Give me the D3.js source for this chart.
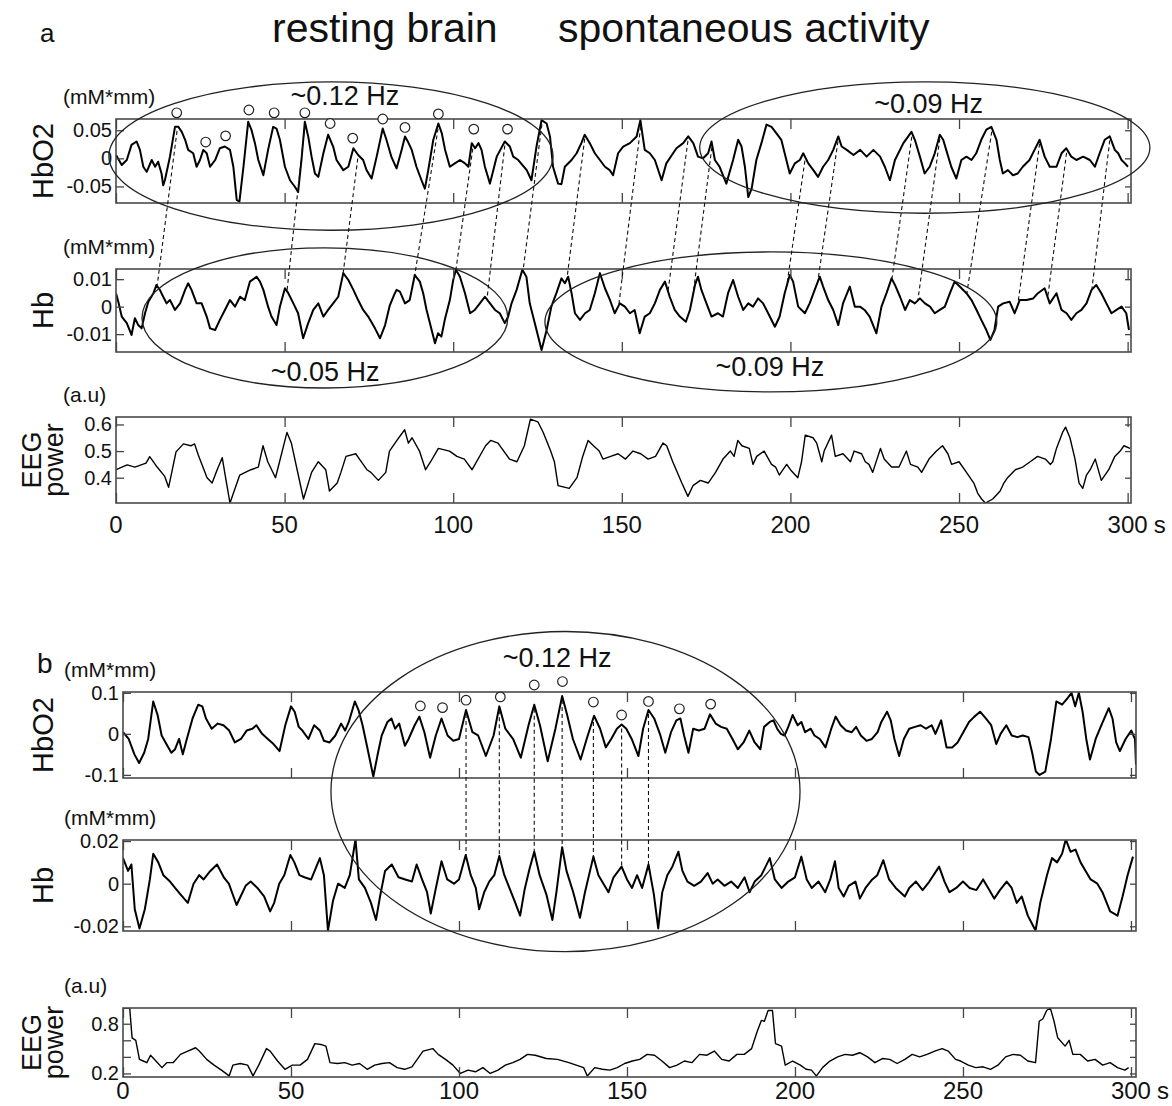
<!DOCTYPE html>
<html>
<head>
<meta charset="utf-8">
<script src="https://cdn.jsdelivr.net/npm/d3@7"></script>
<style>
  body { margin: 0; background: #fff; }
  text { font-family: "Liberation Sans", Arial, sans-serif; fill: #111; }
</style>
</head>
<body>
<div id="chart"></div>
<script>
// ---- data: [time (s), value] ----
const hbo2A = [[0,0.006],[1.7,-0.012],[3.2,-0.003],[4.6,0.024],[6.1,0.030],[7.1,0.015],[8.1,-0.015],[9.1,-0.024],[10.6,-0.003],[11.6,-0.015],[12.5,-0.006],[13.5,-0.027],[14.0,-0.048],[14.5,-0.039],[16.0,0.003],[17.5,0.056],[18.5,0.056],[19.5,0.047],[20.5,0.033],[21.4,0.015],[22.9,0.009],[23.9,-0.015],[24.9,-0.003],[25.9,0.015],[26.9,0.009],[27.9,-0.015],[29.4,-0.003],[30.8,0.018],[32.3,0.021],[33.8,0.015],[34.8,-0.015],[35.8,-0.074],[36.6,-0.077],[37.8,-0.015],[39.2,0.065],[40.2,0.050],[41.2,0.027],[42.2,-0.003],[43.7,-0.030],[45.1,0.015],[46.6,0.056],[47.6,0.053],[48.6,0.033],[50.1,-0.015],[51.6,-0.039],[53.1,-0.051],[54.0,-0.060],[55.0,-0.003],[56.0,0.065],[57.0,0.039],[58.0,0.003],[59.0,-0.027],[60.0,-0.033],[61.5,0.009],[62.9,0.042],[64.4,0.021],[65.4,-0.003],[67.4,-0.021],[68.9,-0.015],[70.4,0.018],[71.8,0.006],[73.3,-0.003],[74.3,-0.021],[75.8,-0.036],[77.3,0.003],[79.1,0.053],[80.2,0.033],[81.7,0.002],[83.2,-0.018],[84.7,0.015],[85.7,0.039],[86.7,0.028],[87.7,0.015],[89.1,-0.015],[90.6,-0.039],[91.6,-0.054],[92.6,-0.021],[94.1,0.033],[95.6,0.062],[96.6,0.045],[97.6,0.015],[99.0,-0.015],[100.5,-0.009],[102.0,-0.003],[103.5,-0.009],[104.5,-0.015],[105.5,0.027],[106.5,0.018],[107.5,0.027],[108.4,0.015],[109.4,-0.015],[110.9,-0.045],[112.9,0.003],[115.3,0.030],[116.8,0.021],[117.8,0.003],[119.3,-0.003],[121.8,-0.021],[123.2,-0.039],[124.7,0.021],[126.2,0.068],[127.7,0.062],[128.7,0.039],[129.6,-0.015],[131.1,-0.045],[132.1,-0.046],[133.1,-0.015],[135.1,-0.003],[136.6,0.009],[138.0,0.027],[139.0,0.042],[140.5,0.027],[142.0,0.009],[143.5,-0.003],[145.0,-0.015],[146.4,-0.021],[147.4,-0.030],[148.9,0.009],[150.4,0.021],[152.4,0.027],[154.4,0.039],[155.5,0.068],[156.8,0.015],[158.3,0.009],[159.8,-0.003],[161.8,-0.039],[163.2,-0.009],[165.2,0.009],[166.2,0.018],[168.2,0.027],[169.7,0.039],[171.2,0.027],[172.6,0.003],[174.1,0.000],[175.6,0.009],[176.6,0.030],[177.6,-0.003],[179.0,-0.015],[181.0,-0.045],[183.0,-0.003],[184.5,0.033],[185.5,0.021],[186.5,-0.015],[187.5,-0.069],[188.5,-0.054],[189.9,-0.003],[191.4,0.027],[192.9,0.060],[194.4,0.056],[195.8,0.045],[197.3,0.033],[198.3,0.009],[199.8,-0.027],[201.3,-0.009],[202.8,-0.003],[203.8,0.009],[205.3,-0.009],[206.8,-0.021],[208.2,-0.033],[209.7,-0.015],[211.2,-0.003],[212.7,0.015],[214.2,0.039],[215.2,0.021],[216.7,0.015],[218.7,0.006],[220.7,0.015],[222.6,0.003],[224.6,0.015],[226.6,0.003],[228.0,-0.015],[229.5,-0.039],[231.0,-0.003],[233.5,0.027],[235.9,0.047],[236.9,0.033],[238.4,0.003],[239.8,-0.027],[241.3,-0.015],[242.8,0.009],[244.3,0.042],[245.3,0.033],[246.2,0.015],[247.7,-0.015],[249.2,-0.036],[250.7,-0.003],[252.2,0.003],[253.7,-0.003],[255.1,0.009],[256.6,0.033],[258.1,0.051],[259.6,0.056],[261.1,0.033],[262.1,-0.003],[263.0,-0.027],[264.5,-0.021],[266.0,-0.030],[267.4,-0.027],[268.9,-0.015],[270.9,-0.003],[272.4,0.015],[273.9,0.033],[275.4,0.003],[276.9,-0.015],[278.9,-0.015],[280.4,0.009],[281.8,0.018],[283.3,0.003],[284.8,-0.003],[286.8,0.003],[288.8,-0.003],[290.3,-0.015],[291.7,0.009],[293.2,0.033],[294.7,0.039],[296.2,0.015],[297.2,0.009],[298.2,-0.003],[299.2,-0.009],[300.1,-0.015]];

const hbA = [[0,0.0049],[0.8,0.0012],[1.7,-0.0036],[3.2,-0.006],[4.6,-0.0103],[5.6,-0.0042],[6.6,-0.0067],[7.6,-0.0079],[8.6,-0.0024],[9.6,0.0018],[11.1,0.0049],[12.0,0.0079],[13.0,0.0061],[14.0,0.0036],[15.0,0.0012],[16.0,0.0024],[17.5,-0.0012],[19.0,0.0012],[20.5,0.0061],[21.4,0.0085],[22.4,0.0061],[23.9,0.0012],[25.4,0.0012],[26.9,-0.0036],[27.9,-0.0079],[29.4,-0.0085],[30.8,-0.0048],[32.3,-0.0012],[33.8,0.0024],[35.3,0.0],[36.8,0.0036],[38.2,0.0024],[39.7,0.0091],[41.7,0.0109],[42.7,0.0091],[43.7,0.0061],[45.1,0.0],[46.1,-0.0036],[47.6,-0.0067],[48.6,0.0],[50.1,0.0067],[51.1,0.0049],[52.6,0.0012],[54.0,-0.0024],[55.5,-0.0115],[57.0,-0.006],[58.5,-0.0012],[60.0,0.0012],[61.5,-0.0036],[62.9,-0.0012],[64.4,0.0012],[65.9,0.0036],[67.4,0.0122],[68.9,0.0097],[70.4,0.0061],[71.8,0.0024],[73.3,-0.0012],[74.8,-0.0036],[76.8,-0.0079],[78.3,-0.0115],[79.8,-0.0067],[81.2,0.0005],[82.7,0.0049],[83.2,0.0061],[84.2,0.0055],[85.7,0.0012],[87.1,0.0024],[88.6,0.0115],[90.1,0.0091],[91.1,0.0049],[92.1,-0.0012],[93.1,-0.006],[94.6,-0.0133],[95.5,-0.0097],[96.5,-0.0109],[97.5,-0.0048],[99.0,0.0024],[100.0,0.0097],[100.8,0.0134],[102.0,0.0109],[103.5,0.0049],[105.0,-0.0024],[106.4,-0.0012],[107.9,0.0012],[109.4,0.0036],[110.9,0.0012],[112.4,-0.0012],[113.8,-0.0024],[115.3,-0.006],[116.3,-0.0036],[117.3,0.0012],[118.8,0.0061],[120.5,0.0134],[121.7,0.0109],[122.7,0.0012],[124.2,-0.006],[126.2,-0.0158],[127.7,-0.0085],[129.1,0.0],[130.6,0.0049],[132.1,0.0103],[133.1,0.0085],[134.1,0.0109],[135.1,0.0049],[136.1,-0.0024],[137.6,-0.0048],[139.1,-0.0024],[140.5,-0.0012],[142.0,0.0049],[143.5,0.0122],[145.0,0.0067],[146.5,0.0024],[147.9,-0.0024],[149.4,0.0012],[150.9,0.0],[152.4,-0.0024],[153.8,-0.0012],[155.3,-0.0097],[156.8,-0.0036],[158.3,-0.0024],[159.8,0.0012],[161.3,0.0061],[162.8,0.0091],[164.2,0.0036],[165.7,-0.0012],[167.2,-0.0036],[169.0,-0.0055],[170.2,-0.0012],[171.7,0.0079],[172.6,0.0109],[173.6,0.0061],[175.1,0.0012],[176.6,-0.0036],[178.5,-0.0024],[180.0,-0.0036],[181.5,0.0049],[183.0,0.0097],[184.5,0.0036],[186.0,-0.0012],[187.5,0.0012],[188.9,0.0],[190.4,0.003],[191.9,0.0012],[193.4,-0.0024],[195.4,-0.0073],[196.8,-0.0036],[198.3,0.0049],[199.8,0.0115],[200.8,0.0091],[202.3,0.0],[204.3,-0.0024],[205.7,0.0012],[207.2,0.0061],[208.7,0.0109],[209.7,0.0073],[211.2,0.0024],[212.7,-0.0012],[214.2,-0.0067],[215.6,0.0012],[217.6,0.0073],[219.1,0.0],[220.6,0.0],[222.0,-0.0012],[223.5,-0.0036],[225.5,-0.0097],[227.0,0.0],[228.5,0.0049],[230.0,0.0103],[231.0,0.0079],[232.5,0.0036],[234.0,-0.0012],[235.4,0.0024],[236.9,0.0012],[238.4,0.003],[239.9,0.0012],[241.4,0.0],[242.8,-0.0024],[244.3,-0.0012],[245.8,0.0],[247.3,0.0049],[248.7,0.0091],[250.2,0.0073],[252.2,0.0049],[253.7,0.0024],[255.2,-0.0012],[256.6,-0.0048],[258.1,-0.0085],[259.3,-0.0121],[260.5,-0.0085],[261.6,0.0],[263.1,0.0012],[265.0,0.0018],[266.5,-0.0024],[268.0,0.0024],[270.0,0.0024],[272.0,0.003],[273.4,0.0049],[275.4,0.0067],[276.9,0.0012],[278.9,0.0049],[280.4,-0.0012],[281.9,-0.0024],[283.3,-0.0048],[284.8,-0.0024],[286.3,-0.0012],[287.8,0.0012],[289.3,0.0061],[290.7,0.0079],[292.2,0.0049],[293.7,0.0012],[295.2,-0.0024],[296.7,-0.0012],[298.2,0.0],[299.6,-0.0024],[300.4,-0.0085]];

const eegA = [[0,0.43],[3.3,0.448],[5.6,0.44],[8.9,0.455],[10,0.479],[12.2,0.44],[14.4,0.406],[15.6,0.364],[17.8,0.497],[20,0.527],[22.2,0.52],[23.3,0.527],[24.4,0.485],[27,0.40],[28.5,0.38],[30,0.43],[31.5,0.475],[32.5,0.40],[33.8,0.305],[36.7,0.41],[40,0.43],[42.2,0.44],[43.6,0.52],[45,0.46],[47.3,0.40],[50.7,0.57],[52,0.53],[55.6,0.32],[58,0.42],[60,0.46],[62.2,0.43],[63.3,0.35],[65.6,0.38],[66.7,0.42],[68.2,0.48],[71.1,0.49],[72.2,0.47],[74.4,0.43],[75.6,0.42],[77.8,0.39],[80,0.42],[81.1,0.50],[83.3,0.54],[85.6,0.58],[86.7,0.53],[87.8,0.55],[90,0.50],[91.8,0.43],[93.3,0.46],[95.6,0.51],[98.9,0.50],[101.1,0.48],[103.3,0.47],[105.6,0.43],[109.6,0.52],[111.1,0.54],[113.3,0.53],[114.4,0.51],[116.7,0.47],[118.9,0.46],[121.1,0.52],[122.9,0.62],[125.1,0.61],[126.7,0.57],[128.9,0.50],[130,0.46],[131.1,0.37],[134.4,0.36],[136.7,0.40],[138.4,0.48],[140,0.54],[141.6,0.52],[143.3,0.50],[144.4,0.47],[146.7,0.48],[148.9,0.49],[151.1,0.47],[153.3,0.50],[155.6,0.49],[157.8,0.47],[160,0.48],[162.2,0.53],[163.3,0.52],[165.1,0.46],[167.8,0.38],[169.6,0.33],[171.1,0.37],[173.3,0.39],[175.6,0.38],[177.8,0.42],[180,0.47],[182.2,0.50],[183.3,0.48],[184.4,0.54],[185.6,0.52],[187.8,0.51],[188.9,0.45],[190,0.48],[192.2,0.50],[194.4,0.45],[195.6,0.44],[196.7,0.41],[197.8,0.43],[198.9,0.45],[200,0.43],[202.2,0.40],[203.3,0.46],[204.4,0.56],[206.7,0.55],[207.8,0.53],[209.3,0.46],[210,0.50],[212.2,0.56],[213.3,0.48],[215.6,0.49],[217.8,0.46],[218.9,0.50],[221.1,0.49],[222.2,0.46],[223.3,0.45],[224.4,0.42],[226.7,0.51],[227.8,0.47],[230,0.44],[232.2,0.44],[234.4,0.50],[235.6,0.45],[237.8,0.44],[238.9,0.42],[241.1,0.47],[243.3,0.50],[245.1,0.52],[246.7,0.49],[247.8,0.45],[250,0.46],[252.2,0.42],[254.4,0.38],[255.6,0.34],[256.7,0.32],[257.8,0.305],[260,0.32],[262.2,0.35],[263.3,0.38],[264.4,0.40],[266.7,0.43],[268.9,0.44],[271.1,0.46],[273.3,0.48],[275.6,0.47],[277.1,0.45],[277.8,0.46],[278.9,0.51],[280.7,0.57],[281.6,0.59],[282.9,0.55],[284.4,0.47],[285.6,0.38],[286.7,0.36],[287.8,0.41],[288.9,0.43],[290.4,0.47],[292.2,0.39],[294.4,0.43],[296.2,0.48],[297.8,0.50],[298.9,0.52],[300.7,0.51]];

const hbo2B = [[0,0.004],[1.7,-0.0125],[3.4,-0.05],[4.8,-0.071],[6.3,-0.046],[7.5,-0.0125],[9,0.079],[10.3,0.046],[11.5,-0.004],[13.2,-0.029],[14.4,-0.046],[15.5,-0.0375],[16.7,-0.0125],[17.8,-0.05],[19,-0.0125],[20.7,0.0375],[22.4,0.071],[23.6,0.067],[24.7,0.0375],[26.4,0.0125],[28.2,0.025],[29.9,0.021],[31.6,0.008],[33.3,-0.021],[35.1,-0.0125],[36.8,0.008],[38.5,0.0125],[39.7,0.021],[41.4,0],[43.1,-0.0125],[44.8,-0.025],[46.6,-0.042],[48.3,0.021],[50,0.067],[51.1,0.054],[52.3,0.017],[53.4,0.008],[55.2,-0.0125],[56.9,0.021],[58.6,0.008],[59.8,-0.017],[61.5,-0.021],[63.2,-0.004],[64.9,0.025],[66.1,0.008],[67.2,0.029],[69,0.079],[70.1,0.058],[71.3,0.021],[72.6,-0.029],[74.5,-0.104],[75.9,-0.046],[77,-0.004],[78.7,0.029],[79.9,0.0375],[81,0.0125],[82.2,0.025],[83.9,-0.029],[85,-0.0125],[86.8,0.021],[88.2,0.042],[89.7,0.004],[91.4,-0.058],[93.1,-0.004],[94.8,0.0375],[96.6,-0.004],[98.3,-0.017],[100,-0.0125],[102.1,0.058],[104,0.004],[105.7,-0.004],[108,-0.054],[110.3,-0.004],[112,0.067],[113.8,0.0125],[116.1,-0.0125],[118.4,-0.058],[120.7,0.021],[122.4,0.071],[124.1,0.021],[126.4,-0.067],[128.7,0.0125],[130.7,0.092],[132.2,0.046],[133.9,-0.0125],[136.2,-0.0625],[138,-0.0125],[140.2,0.044],[142,0.0125],[143.7,-0.033],[145.3,-0.0125],[147,0.0125],[148.4,0.0225],[149.8,0.0125],[151.4,-0.0125],[153.4,-0.054],[154.8,0.0125],[156.4,0.058],[158.1,0.0375],[159.8,0],[161.4,-0.046],[163.1,0.004],[164.7,0.033],[165.9,0.0375],[167,-0.004],[168.3,-0.046],[169.7,0.0125],[171.4,0.008],[173.1,0.0125],[174.7,0.0475],[176.4,0.025],[178,0.017],[179.7,0.0125],[181.4,-0.0125],[183,-0.0375],[184.7,-0.021],[186.4,0.008],[188,-0.021],[189.7,-0.0375],[190.8,0.017],[192.5,0.029],[193.6,0.033],[194.7,0.0125],[195.8,0],[196.9,-0.004],[198,0.017],[199.3,0.046],[200.8,0.021],[201.9,0.029],[203,0.004],[204.7,0.0125],[205.8,-0.004],[207.4,-0.0125],[209.1,-0.033],[210.8,0.0125],[212.1,0.042],[213.6,0.021],[215.2,0.008],[216.9,0.004],[218.2,0.017],[219.6,-0.004],[221.3,-0.017],[222.9,-0.0125],[224.6,0.004],[225.7,0.029],[227.4,0.054],[228.5,0.033],[229.6,-0.0125],[231,-0.054],[232.4,-0.0125],[234,0.0125],[235.7,0.017],[237.4,0.021],[239,0.0125],[240.7,0.021],[241.8,0],[243.5,0.033],[245.1,-0.033],[246.8,-0.033],[248.4,-0.021],[250.1,0.004],[251.8,0.029],[253.4,0.042],[255.1,0.054],[256.8,0.0375],[258.4,0.021],[259.9,-0.025],[261.2,0],[262.9,0.021],[264.5,-0.004],[266.2,-0.008],[267.8,-0.004],[269.5,-0.008],[270.6,-0.046],[271.7,-0.092],[272.8,-0.1],[274.5,-0.092],[276.2,-0.0125],[277.8,0.079],[279.5,0.071],[281.2,0.0875],[282.3,0.1],[283.4,0.067],[284.5,0.1],[285.6,0.054],[286.7,-0.0125],[287.8,-0.0625],[289.5,-0.0125],[291.2,0.021],[293.4,0.0625],[294.5,0.0375],[295.6,-0.021],[296.7,-0.042],[298.4,-0.0125],[300.1,0.008],[301.2,-0.0125],[301.5,-0.075]];

const hbB = [[0,0.012],[1.5,0.006],[2.5,0.009],[3.5,-0.012],[4.9,-0.021],[6.5,-0.012],[8,0.002],[9,0.014],[10.5,0.010],[12,0.004],[14,0.001],[15.5,-0.002],[17.1,-0.005],[19.3,-0.009],[21,0.000],[22.7,0.004],[24,0.002],[26,0.006],[28,0.009],[30,0.003],[31.5,0.000],[33.8,-0.010],[35,-0.006],[36.5,-0.001],[38,0.001],[40,-0.002],[42,-0.006],[43.8,-0.013],[45,-0.009],[46.5,0.000],[48,0.004],[49.8,0.0135],[51,0.010],[52.5,0.004],[54,0.003],[56,0.002],[58.6,0.012],[59.8,0.004],[61,-0.022],[62.5,-0.008],[64,0.000],[66,-0.002],[67.5,0.004],[69.2,0.0208],[70.2,0.002],[72,-0.002],[73.8,-0.009],[75.3,-0.017],[76.5,-0.006],[78,0.006],[80,0.009],[82,0.003],[84,0.002],[86,0.001],[87.4,0.009],[89,0.002],[90.5,-0.004],[91.6,-0.014],[93,-0.003],[94.8,0.0105],[96.5,0.002],[98.5,0.000],[100,0.002],[102,0.0135],[103.5,0.004],[105,-0.002],[106,-0.012],[107.5,-0.004],[109,0.001],[110.5,0.004],[112,0.013],[113.5,0.004],[115,-0.002],[116.5,-0.008],[118.2,-0.015],[119.5,-0.003],[121,0.007],[122.4,0.015],[124,0.004],[126,-0.005],[127.8,-0.017],[129,-0.004],[130.7,0.0171],[132,0.006],[134,-0.004],[136,-0.016],[137.5,-0.004],[140,0.0127],[141.5,0.004],[143,0.000],[144.5,-0.004],[146,0.003],[148.4,0.008],[150,0.002],[151.5,-0.002],[153,0.004],[154.5,-0.002],[156.4,0.009],[158,-0.005],[159.3,-0.021],[160.5,-0.004],[162,0.004],[163.5,0.008],[165.3,0.015],[166.5,0.006],[168,0.001],[170,-0.001],[172,0.001],[174,0.005],[175.5,0.000],[177,0.002],[179,-0.001],[181,0.001],[183,-0.002],[185,0.003],[186.5,-0.004],[188,0.001],[190,0.004],[192.5,0.012],[194,0.002],[196,-0.002],[198,0.001],[200,0.003],[201.9,0.0127],[203.5,0.002],[205,-0.002],[207,0.001],[209,-0.004],[210.5,0.002],[211.9,0.0105],[213,-0.002],[214.5,-0.006],[216,-0.001],[218,0.001],[219.3,-0.007],[221,-0.002],[223,0.002],[224.5,0.004],[226.3,0.011],[228,0.002],[230,-0.002],[232.7,-0.006],[234,-0.002],[236,0.001],[238,-0.003],[240,0.001],[242.9,0.008],[244.5,0.001],[246,-0.004],[248,-0.002],[250,0.001],[252,-0.002],[254,-0.003],[256,0.002],[257.5,-0.002],[259.3,-0.007],[261,-0.003],[263,0.001],[264.5,-0.002],[266,-0.009],[267.5,-0.006],[269.3,-0.015],[271.6,-0.022],[273,-0.009],[275,0.004],[276.5,0.012],[278,0.010],[279.5,0.014],[280.6,0.0208],[282,0.015],[283.5,0.016],[285,0.010],[286.5,0.006],[288,0.002],[290,0.000],[291.5,-0.004],[293.8,-0.013],[296,-0.015],[297.5,-0.006],[299,0.004],[300.6,0.0127]];

const eegB = [[0,0.99],[2,0.99],[2.7,0.63],[3.8,0.60],[4.9,0.37],[6,0.35],[7.1,0.33],[8.2,0.42],[9.8,0.35],[11.6,0.27],[13,0.33],[14.9,0.33],[17.1,0.43],[19.3,0.47],[21.6,0.51],[22.7,0.47],[24.9,0.37],[27.1,0.30],[29.3,0.24],[31.6,0.17],[32.7,0.30],[34.9,0.32],[37.1,0.30],[38.7,0.17],[40.4,0.30],[42.7,0.50],[43.8,0.47],[46,0.35],[48.2,0.25],[50.4,0.30],[52.7,0.30],[54.9,0.37],[57.1,0.56],[58.9,0.55],[60.4,0.53],[61.6,0.33],[63.8,0.32],[66,0.33],[68.2,0.30],[70.4,0.32],[72.7,0.25],[74.9,0.30],[77.1,0.32],[79.3,0.33],[81.6,0.27],[83.8,0.25],[86,0.28],[89.3,0.47],[92.2,0.50],[93.8,0.43],[96,0.37],[98.2,0.30],[100.4,0.20],[102.7,0.24],[104.9,0.22],[107.1,0.27],[109.3,0.20],[111.6,0.24],[113.8,0.30],[116,0.33],[118.2,0.37],[120.4,0.43],[122.7,0.42],[126,0.38],[129.3,0.37],[132.7,0.33],[134.9,0.30],[137.1,0.27],[138.2,0.17],[140.4,0.27],[142.7,0.25],[144.9,0.24],[147.1,0.27],[149.3,0.32],[151.6,0.35],[153.8,0.37],[156,0.43],[158.2,0.42],[160.4,0.35],[162.7,0.27],[164.9,0.30],[167.1,0.35],[169.3,0.33],[171.6,0.43],[173.8,0.42],[176,0.47],[178.2,0.37],[180.4,0.35],[182.7,0.43],[184.9,0.43],[187.1,0.50],[188.7,0.70],[190,0.84],[190.9,0.83],[192,0.96],[193.3,0.96],[194.2,0.56],[196,0.53],[197.1,0.30],[199.3,0.35],[201.6,0.30],[203.3,0.25],[204.9,0.24],[206.4,0.17],[208.2,0.27],[210.4,0.35],[212.7,0.40],[214.9,0.43],[217.1,0.42],[219.3,0.45],[221.6,0.40],[223.8,0.33],[226,0.38],[228.2,0.37],[230.4,0.32],[232.7,0.37],[234.9,0.43],[237.1,0.40],[239.3,0.43],[241.6,0.47],[243.8,0.50],[245.6,0.47],[247.8,0.37],[249.3,0.35],[251.6,0.30],[253.8,0.27],[256,0.28],[258.2,0.25],[260.4,0.30],[262.7,0.40],[264.9,0.43],[267.1,0.42],[269.3,0.35],[271.6,0.33],[272.7,0.83],[273.8,0.86],[274.9,0.96],[276,0.99],[277.1,0.83],[278.2,0.63],[280.4,0.53],[281.6,0.60],[282.7,0.43],[284.9,0.43],[287.1,0.35],[289.3,0.37],[291.6,0.30],[293.8,0.33],[296,0.27],[298.2,0.24],[299.3,0.27]];

// peak markers and peak pairings (s)
const circlesA = [[18.0,0.081],[26.6,0.029],[32.5,0.040],[39.4,0.086],[46.9,0.081],[56.0,0.081],[63.5,0.062],[70.2,0.036],[79.1,0.070],[85.7,0.055],[95.6,0.079],[106.1,0.052],[116.1,0.052]];
const circlesB = [[88.5,0.068],[95.1,0.064],[102.1,0.082],[112.3,0.09],[122.4,0.119],[130.8,0.1275],[140.0,0.0775],[148.4,0.046],[156.4,0.079],[165.6,0.061],[174.9,0.0725]];
const linksA = [[18.1,12.2],[56.0,50.7],[71.7,67.3],[95.5,88.6],[105.8,100.8],[115.3,110.0],[126.3,120.7],[139.0,133.7],[155.6,149.1],[169.6,163.7],[176.7,171.1],[204.3,198.9],[214.1,208.1],[236.0,230.1],[244.3,237.8],[259.7,252.3],[273.9,267.4],[281.9,276.3],[294.7,289.4]];
const linksB = [102.1,112.0,122.4,130.7,140.0,148.4,156.4];
const xTicks = [0,50,100,150,200,250,300];

const W = 1172, H = 1106;
const svg = d3.select('#chart').append('svg').attr('width', W).attr('height', H);

const xA = d3.scaleLinear().domain([0, 301]).range([116, 1131]);
const xB = d3.scaleLinear().domain([0, 301.5]).range([123, 1136]);

const panels = {
  aHbO2: {data: hbo2A, x: xA, top: 119, bottom: 203, domain: [-0.0795, 0.070], ticks: [-0.05, 0, 0.05], shown: [-0.05, 0, 0.05], unit: '(mM*mm)', name: ['HbO2'], lw: 2},
  aHb:   {data: hbA,   x: xA, top: 269, bottom: 352, domain: [-0.0165, 0.0137], ticks: [-0.01, 0, 0.01], shown: [-0.01, 0, 0.01], unit: '(mM*mm)', name: ['Hb'], lw: 2},
  aEEG:  {data: eegA,  x: xA, top: 417, bottom: 503, domain: [0.305, 0.628], ticks: [0.4, 0.5, 0.6], shown: [0.4, 0.5, 0.6], unit: '(a.u)', name: ['EEG', 'power'], lw: 1.4, xlab: 533},
  bHbO2: {data: hbo2B, x: xB, top: 692, bottom: 778, domain: [-0.1076, 0.102], ticks: [-0.1, 0, 0.1], shown: [-0.1, 0, 0.1], unit: '(mM*mm)', name: ['HbO2'], lw: 2},
  bHb:   {data: hbB,   x: xB, top: 840, bottom: 931, domain: [-0.0222, 0.0205], ticks: [-0.02, 0, 0.02], shown: [-0.02, 0, 0.02], unit: '(mM*mm)', name: ['Hb'], lw: 2},
  bEEG:  {data: eegB,  x: xB, top: 1008, bottom: 1077, domain: [0.157, 0.99], ticks: [0.2, 0.4, 0.6, 0.8], shown: [0.2, 0.8], unit: '(a.u)', name: ['EEG', 'power'], lw: 1.4, xlab: 1099}
};

const fmt = v => v === 0 ? '0' : String(v);

function valueAt(series, t) {
  const i = d3.bisector(d => d[0]).left(series, t);
  if (i <= 0) return series[0][1];
  if (i >= series.length) return series[series.length - 1][1];
  const a = series[i - 1], b = series[i];
  return a[1] + (b[1] - a[1]) * (t - a[0]) / (b[0] - a[0]);
}

// Draw each panel
Object.entries(panels).forEach(([key, p]) => {
  p.y = d3.scaleLinear().domain(p.domain).range([p.bottom, p.top]);
  const x = p.x, y = p.y;
  const [x0, x1] = x.range();
  const g = svg.append('g');

  g.append('clipPath').attr('id', 'clip-' + key)
    .append('rect').attr('x', x0).attr('y', p.top).attr('width', x1 - x0).attr('height', p.bottom - p.top);

  const line = d3.line().x(d => x(d[0])).y(d => y(d[1]));
  g.append('path')
    .datum(p.data)
    .attr('d', line)
    .attr('clip-path', `url(#clip-${key})`)
    .attr('fill', 'none')
    .attr('stroke', '#000')
    .attr('stroke-width', p.lw)
    .attr('stroke-linejoin', 'round');

  // inward ticks on all four sides
  const tickStyle = sel => {
    sel.select('.domain').remove();
    sel.selectAll('line').attr('stroke', '#444').attr('stroke-width', 1.3);
  };
  g.append('g').attr('transform', `translate(0,${p.bottom})`)
    .call(d3.axisBottom(x).tickValues(xTicks).tickSize(-10).tickFormat(''))
    .call(tickStyle);
  g.append('g').attr('transform', `translate(0,${p.top})`)
    .call(d3.axisTop(x).tickValues(xTicks).tickSize(-10).tickFormat(''))
    .call(tickStyle);
  g.append('g').attr('transform', `translate(${x0},0)`)
    .call(d3.axisLeft(y).tickValues(p.ticks).tickSize(-8).tickPadding(4)
      .tickFormat(d => p.shown.includes(d) ? fmt(d) : ''))
    .call(tickStyle)
    .call(s => s.selectAll('text').attr('font-size', 20).attr('fill', '#111'));
  g.append('g').attr('transform', `translate(${x1},0)`)
    .call(d3.axisRight(y).tickValues(p.ticks).tickSize(-6).tickFormat(''))
    .call(tickStyle);

  g.append('rect')
    .attr('x', x0).attr('y', p.top).attr('width', x1 - x0).attr('height', p.bottom - p.top)
    .attr('fill', 'none').attr('stroke', '#4a4a4a').attr('stroke-width', 1.6);

  // time labels under the EEG panels
  if (p.xlab) {
    g.selectAll(null).data(xTicks).enter().append('text')
      .attr('x', d => x(d)).attr('y', p.xlab)
      .attr('text-anchor', 'middle')
      .attr('font-size', 24)
      .text(d => d);
    g.append('text')
      .attr('x', x(300) + 26).attr('y', p.xlab)
      .attr('font-size', 24)
      .text('s');
  }

  // unit label
  g.append('text')
    .attr('x', key[0] === 'a' ? 63 : 64)
    .attr('y', p.top - 15)
    .attr('font-size', 21)
    .text(p.unit);

  // rotated axis name
  const mid = (p.top + p.bottom) / 2;
  if (p.name.length === 1) {
    g.append('text')
      .attr('transform', `translate(53,${mid}) rotate(-90)`)
      .attr('text-anchor', 'middle')
      .attr('font-size', 29)
      .text(p.name[0]);
  } else {
    g.append('text')
      .attr('transform', `translate(41,${mid}) rotate(-90)`)
      .attr('text-anchor', 'middle')
      .attr('font-size', 27)
      .text(p.name[0]);
    g.append('text')
      .attr('transform', `translate(63,${mid}) rotate(-90)`)
      .attr('text-anchor', 'middle')
      .attr('font-size', 27)
      .text(p.name[1]);
  }
});

// ---- annotations ----
const ann = svg.append('g');

const ellipses = [
  {panel: 'aHbO2', t0: -2.1, t1: 129.6, v0: -0.128, v1: 0.136},
  {panel: 'aHbO2', t0: 173.1, t1: 306.6, v0: -0.0977, v1: 0.136},
  {panel: 'aHb', t0: 7.7, t1: 116.2, v0: -0.0296, v1: 0.0214},
  {panel: 'aHb', t0: 127.2, t1: 261.2, v0: -0.031, v1: 0.0199},
  {panel: 'bHbO2', t0: 61.9, t1: 201.5, v0: -0.531, v1: 0.2495}
];
ellipses.forEach(e => {
  const p = panels[e.panel];
  const xl = p.x(e.t0), xr = p.x(e.t1), yt = p.y(e.v1), yb = p.y(e.v0);
  ann.append('ellipse')
    .attr('cx', (xl + xr) / 2).attr('cy', (yt + yb) / 2)
    .attr('rx', (xr - xl) / 2).attr('ry', (yb - yt) / 2)
    .attr('fill', 'none').attr('stroke', '#222').attr('stroke-width', 1.3);
});

const freqLabels = [
  {panel: 'aHbO2', t: 67.9, v: 0.095, text: '~0.12 Hz'},
  {panel: 'aHbO2', t: 241, v: 0.081, text: '~0.09 Hz'},
  {panel: 'aHb', t: 62, v: -0.027, text: '~0.05 Hz'},
  {panel: 'aHb', t: 193.9, v: -0.0252, text: '~0.09 Hz'},
  {panel: 'bHbO2', t: 129.2, v: 0.164, text: '~0.12 Hz'}
];
freqLabels.forEach(f => {
  const p = panels[f.panel];
  ann.append('text')
    .attr('x', p.x(f.t)).attr('y', p.y(f.v))
    .attr('text-anchor', 'middle')
    .attr('font-size', 27)
    .text(f.text);
});

// dashed peak connectors
const dashed = (x1, y1, x2, y2) => ann.append('line')
  .attr('x1', x1).attr('y1', y1).attr('x2', x2).attr('y2', y2)
  .attr('stroke', '#111').attr('stroke-width', 1.1).attr('stroke-dasharray', '4,3');

linksA.forEach(([tTop, tBot]) => {
  const pt = panels.aHbO2, pb = panels.aHb;
  dashed(pt.x(tTop), pt.y(valueAt(pt.data, tTop)) + 4, pb.x(tBot), pb.y(valueAt(pb.data, tBot)));
});
linksB.forEach(t => {
  const pt = panels.bHbO2, pb = panels.bHb;
  dashed(pt.x(t), pt.y(valueAt(pt.data, t)) + 4, pb.x(t), pb.y(valueAt(pb.data, t)));
});

// peak circles
[[circlesA, panels.aHbO2], [circlesB, panels.bHbO2]].forEach(([pts, p]) => {
  ann.selectAll(null).data(pts).enter().append('circle')
    .attr('cx', d => p.x(d[0])).attr('cy', d => p.y(d[1]))
    .attr('r', 4.8)
    .attr('fill', '#fff').attr('stroke', '#222').attr('stroke-width', 1.2);
});

// panel letters and title
svg.append('text').attr('x', 40).attr('y', 42).attr('font-size', 26).text('a');
svg.append('text').attr('x', 37).attr('y', 673).attr('font-size', 28).text('b');
svg.append('text').attr('x', 272).attr('y', 42).attr('font-size', 41).text('resting brain');
svg.append('text').attr('x', 558).attr('y', 42).attr('font-size', 41).text('spontaneous activity');
</script>
</body>
</html>
